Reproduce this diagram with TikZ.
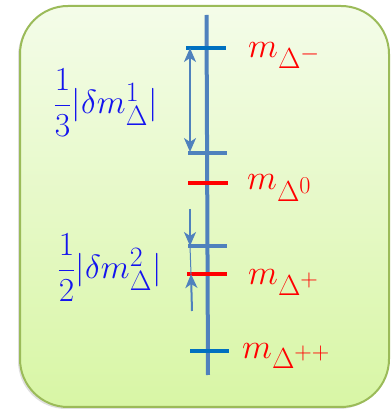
\documentclass[tikz,border=0pt]{standalone}
\usepackage{amsmath,amssymb}
\usepackage{graphicx}
\usepackage{xcolor}
\usepackage{tikz}
\usetikzlibrary{arrows.meta,shadows}
\tikzset{every picture/.append style={font=\Huge}}
\definecolor{boxedge}{HTML}{9BBB59}
\definecolor{boxtop}{HTML}{F4FCE9}
\definecolor{boxbot}{HTML}{D8F6A5}
\definecolor{axisblue}{HTML}{4F81BD}
\definecolor{deepblue}{HTML}{0070C0}
\definecolor{labred}{HTML}{FF0000}
\definecolor{labblue}{HTML}{1414EE}
\newcommand{\bigmath}[2][1.4]{\scalebox{#1}{$#2$}}
\tikzset{
  level/.style={line width=4.5pt},
  gap/.style={axisblue,line width=2pt,-{Stealth[length=14pt,width=12pt,inset=4pt]}},
  masslab/.style={labred,anchor=base west,inner sep=0pt},
  splitlab/.style={labblue,anchor=west,inner sep=0pt}
}

\begin{document}
\begin{tikzpicture}[x=1pt,y=1pt]
    \useasboundingbox (0,0) rectangle (391,410);
    \shade[top color=boxtop,bottom color=boxbot,draw=boxedge,line width=2pt,rounded corners=48pt,
      drop shadow={opacity=0.25,shadow xshift=-2pt,shadow yshift=-2pt}] (20,3) rectangle (389,404);
    % axis
    \draw[axisblue,line width=4pt] (206.5,395) -- (208,35);
    % levels
    \coordinate (minusL) at (186,362);  \coordinate (minusR) at (226,362);
    \coordinate (upL) at (188,257);     \coordinate (upR) at (227,257);
    \coordinate (zeroL) at (188,227);   \coordinate (zeroR) at (228,227);
    \coordinate (lowL) at (188,164);    \coordinate (lowR) at (227,164);
    \coordinate (plusL) at (187,136);   \coordinate (plusR) at (227,136);
    \coordinate (ppL) at (190,59);      \coordinate (ppR) at (229,59);
    \draw[level,deepblue] (minusL) -- (minusR);
    \draw[level,axisblue] (upL) -- (upR);
    \draw[level,labred] (zeroL) -- (zeroR);
    \draw[level,axisblue] (lowL) -- (lowR);
    \draw[level,labred] (plusL) -- (plusR);
    \draw[level,deepblue] (ppL) -- (ppR);
    % splittings
    \coordinate (g1top) at (190,362);
    \coordinate (g1bot) at (190,258);
    \coordinate (g2top) at (190,164);
    \coordinate (g2bot) at (191,136);
    \coordinate (g2in) at (190,201);
    \coordinate (g2out) at (192,99);
    \draw[gap,{Stealth[length=14pt,width=12pt,inset=4pt]}-{Stealth[length=14pt,width=12pt,inset=4pt]}] (g1top) -- (g1bot);
    \draw[gap] (g2in) -- (g2top);
    \draw[gap] (g2out) -- (g2bot);
    \draw[axisblue,line width=1pt] (g2top) -- (g2bot);
    % labels
    \node[masslab] (mminus) at (248,352) {\bigmath{m_{\Delta^-}}};
    \node[masslab] (mzero) at (247,220) {\bigmath{m_{\Delta^0}}};
    \node[masslab] (mplus) at (248,125) {\bigmath{m_{\Delta^+}}};
    \node[masslab] (mpp) at (242,52) {\bigmath{m_{\Delta^{++}}}};
    \node[splitlab] (split1) at (53,307) {\bigmath[1.35]{\dfrac{1}{3}|\delta m_\Delta^1|}};
    \node[splitlab] (split2) at (57,142) {\bigmath[1.35]{\dfrac{1}{2}|\delta m_\Delta^2|}};
  \end{tikzpicture}
\end{document}
